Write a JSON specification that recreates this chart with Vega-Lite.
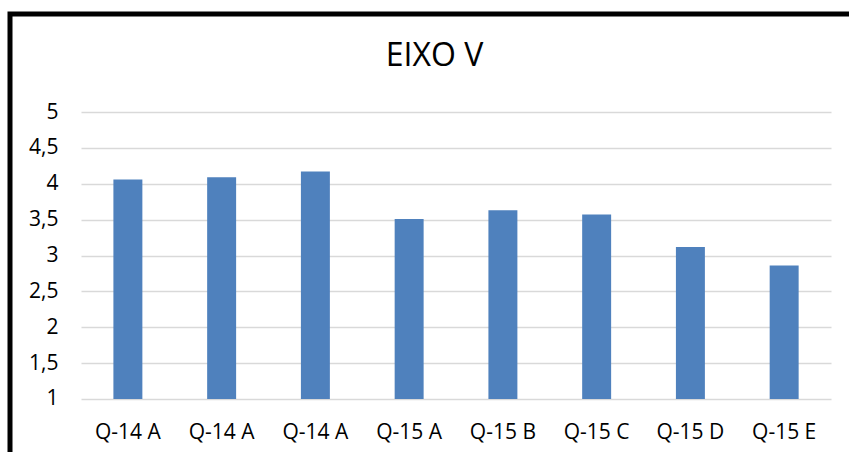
{
  "$schema": "https://vega.github.io/schema/vega-lite/v6.json",
  "width": 839,
  "height": 438,
  "autosize": {"type": "none"},
  "padding": {"left": 10, "top": 14, "right": 0, "bottom": 0},
  "background": "white",
  "config": {
    "font": "Open Sans",
    "view": {"stroke": "black", "strokeWidth": 5, "strokeDash": [839, 1277, 438, 0], "strokeCap": "square"}
  },
  "title": {
    "text": "EIXO V",
    "fontSize": 32,
    "fontWeight": "normal",
    "font": "Open Sans",
    "color": "#000000",
    "anchor": "middle",
    "frame": "group",
    "orient": "top",
    "baseline": "alphabetic",
    "offset": -84,
    "dx": 5
  },
  "data": {
    "values": [
      {"questao": "Q-14 A", "media": 4.06},
      {"questao": "Q-14 A ", "media": 4.09},
      {"questao": "Q-14 A  ", "media": 4.17},
      {"questao": "Q-15 A", "media": 3.51},
      {"questao": "Q-15 B", "media": 3.63},
      {"questao": "Q-15 C", "media": 3.57},
      {"questao": "Q-15 D", "media": 3.12},
      {"questao": "Q-15 E", "media": 2.86}
    ]
  },
  "mark": {"type": "bar", "color": "#4f81bd"},
  "encoding": {
    "x": {
      "field": "questao",
      "type": "nominal",
      "sort": null,
      "scale": {"paddingInner": 0.691, "paddingOuter": 0.82, "align": 0.6725},
      "axis": {
        "title": null,
        "orient": "bottom",
        "offset": -53,
        "domain": false,
        "ticks": false,
        "labelAngle": 0,
        "labelPadding": 39,
        "labelBaseline": "alphabetic",
        "labelFontSize": 21,
        "labelColor": "#000000",
        "labelFont": "Open Sans"
      }
    },
    "y": {
      "field": "media",
      "type": "quantitative",
      "scale": {"domain": [0.2613, 6.366], "nice": false, "zero": false},
      "axis": {
        "title": null,
        "values": [1, 1.5, 2, 2.5, 3, 3.5, 4, 4.5, 5],
        "offset": -48,
        "domain": false,
        "ticks": false,
        "labelPadding": 0,
        "labelFontSize": 21,
        "labelColor": "#000000",
        "labelFont": "Open Sans",
        "labelExpr": "replace(format(datum.value, '.2~f'), '.', ',')",
        "grid": true,
        "gridColor": "#d9d9d9",
        "gridWidth": 1.3,
        "gridDash": [0, 71, 750, 1000]
      }
    },
    "y2": {"datum": 1}
  }
}
